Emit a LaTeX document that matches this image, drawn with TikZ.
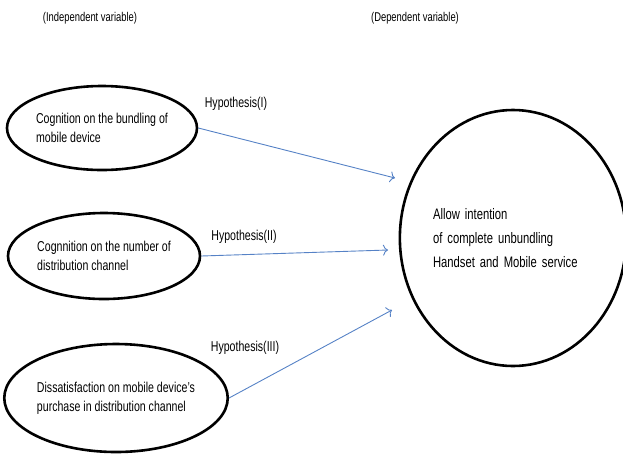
\documentclass[tikz,border=0pt]{standalone}
\usepackage{fontspec}
\setmainfont{Liberation Sans}[FakeStretch=0.74]
\usepackage{tikz}
\usetikzlibrary{shapes,arrows,arrows.meta,positioning}
\usepackage{xcolor}
\definecolor{hypblue}{RGB}{86,130,198}

\begin{document}
\begin{tikzpicture}[x=1pt,y=-1pt,
  var/.style={draw,ellipse,line width=2.6pt,inner sep=0pt,align=left,font=\fontsize{14.3}{19}\selectfont},
  hyp/.style={-{To[length=5pt,width=11pt]},hypblue,line width=0.9pt},
  lbl/.style={font=\fontsize{14.3}{15}\selectfont},
  head/.style={font=\fontsize{12.7}{14}\selectfont}]
\useasboundingbox (0,0) rectangle (623,456);
\node[head] (indep) at (90,18) {(Independent variable)};
\node[head] (dep) at (415,18) {(Dependent variable)};
\node[var,minimum width=190,minimum height=84] (bundle) at (102,128) {Cognition on the bundling of\\mobile device};
\node[var,minimum width=192,minimum height=86] (channel) at (104,256) {Cognnition on the number of\\distribution channel};
\node[var,minimum width=206,minimum height=108] (dissat) at (116,398) {Dissatisfaction on mobile device's\\purchase in distribution channel};
\node[draw,ellipse,line width=2.6pt,minimum width=216,minimum height=256,inner sep=0pt,text width=160,align=left,font=\fontsize{15.2}{24}\selectfont] (allow) at (513,238) {Allow intention\\of complete unbundling\\Handset and Mobile service};
\coordinate (end1) at (395,178);
\coordinate (end2) at (388,250);
\coordinate (end3) at (392,310);
\draw[hyp] (bundle.east) -- (end1);
\draw[hyp] (channel.east) -- (end2);
\draw[hyp] (dissat.east) -- (end3);
\node[lbl] (hyp1) at (236,104) {Hypothesis(I)};
\node[lbl] (hyp2) at (244,237) {Hypothesis(II)};
\node[lbl] (hyp3) at (245,348) {Hypothesis(III)};
\end{tikzpicture}
\end{document}
